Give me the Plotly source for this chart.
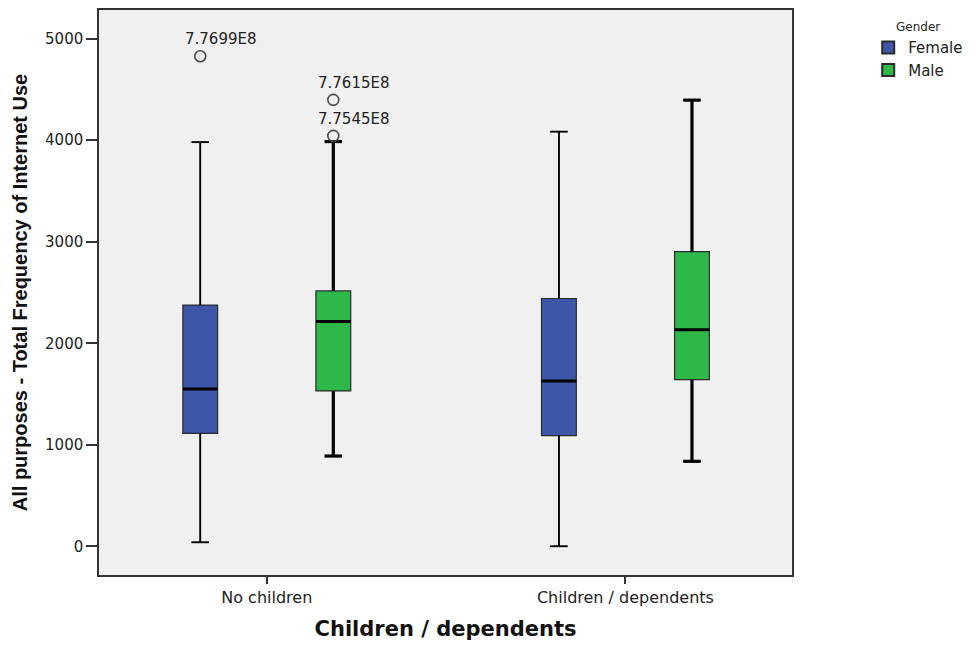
import plotly.graph_objects as go

# Categories on the x axis
categories = ["No children", "Children / dependents"]
genders = ["Female", "Male"]

# Box statistics per gender, one value per category
female_min = [39, 0]
female_q1 = [1113, 1091]
female_median = [1550, 1628]
female_q3 = [2376, 2441]
female_max = [3981, 4085]

male_min = [889, 837]
male_q1 = [1530, 1641]
male_median = [2214, 2132]
male_q3 = [2516, 2903]
male_max = [3987, 4395]

# Outlying cases (category index, gender, value, case label)
outlier_cat = [0, 0, 0]
outlier_gender = ["Female", "Male", "Male"]
outlier_value = [4827, 4398, 4043]
outlier_label = ["7.7699E8", "7.7615E8", "7.7545E8"]

y_ticks = [0, 1000, 2000, 3000, 4000, 5000]

colors = {"Female": "#3d56a8", "Male": "#2fb84a"}
whisker_w = {"Female": 1.8, "Male": 3.2}
offset = {"Female": -0.1855, "Male": 0.1855}
box_w = 0.097
cap_w = box_w * 0.5
cat_pos = [1, 2]

stats = {
    "Female": (female_min, female_q1, female_median, female_q3, female_max),
    "Male": (male_min, male_q1, male_median, male_q3, male_max),
}

TXT = "DejaVu Sans, Verdana, sans-serif"

fig = go.Figure()

for g in genders:
    lo, q1, med, q3, hi = stats[g]
    xs = [c + offset[g] for c in cat_pos]
    fig.add_trace(go.Box(
        name=g,
        x=xs,
        q1=q1, median=med, q3=q3,
        lowerfence=lo, upperfence=hi,
        width=box_w,
        whiskerwidth=0.5,
        fillcolor=colors[g],
        line=dict(color="#2a2a2a", width=1.2),
        boxpoints=False,
        hoverinfo="skip",
    ))

# Whiskers, caps and heavy median bars drawn over each box
for g in genders:
    lo, q1, med, q3, hi = stats[g]
    wx, wy = [], []
    mx, my = [], []
    for i, c in enumerate(cat_pos):
        x0 = c + offset[g]
        wx += [x0, x0, None, x0, x0, None]
        wy += [q3[i], hi[i], None, lo[i], q1[i], None]
        wx += [x0 - cap_w / 2, x0 + cap_w / 2, None, x0 - cap_w / 2, x0 + cap_w / 2, None]
        wy += [hi[i], hi[i], None, lo[i], lo[i], None]
        mx += [x0 - box_w / 2, x0 + box_w / 2, None]
        my += [med[i], med[i], None]
    fig.add_trace(go.Scatter(
        x=wx, y=wy, mode="lines",
        line=dict(color="#000000", width=whisker_w[g]),
        showlegend=False, hoverinfo="skip",
    ))
    fig.add_trace(go.Scatter(
        x=mx, y=my, mode="lines",
        line=dict(color="#000000", width=3),
        showlegend=False, hoverinfo="skip",
    ))

# Outlier circles with their case labels
ox = [cat_pos[c] + offset[g] for c, g in zip(outlier_cat, outlier_gender)]
fig.add_trace(go.Scatter(
    x=ox, y=outlier_value, mode="markers",
    marker=dict(symbol="circle-open", size=11, color="#4a4a4a",
                line=dict(width=1.6, color="#4a4a4a")),
    showlegend=False, hoverinfo="skip",
))
for x, v, t in zip(ox, outlier_value, outlier_label):
    fig.add_annotation(
        x=x, y=v, text=t, showarrow=False,
        xshift=21, yshift=17,
        font=dict(family=TXT, size=15, color="#222222"),
    )

fig.update_layout(
    width=976, height=645,
    margin=dict(l=99, r=179, t=8, b=67),
    paper_bgcolor="white",
    plot_bgcolor="#f0f0f0",
    boxmode="overlay",
    font=dict(family=TXT, color="#222222"),
    legend=dict(
        x=1.110, y=0.99, xanchor="left", yanchor="top",
        title=dict(text="Gender", side="top center",
                   font=dict(size=12, family=TXT, color="#222222")),
        font=dict(size=15, family=TXT, color="#222222"),
        itemsizing="constant",
        tracegroupgap=0,
        bgcolor="rgba(0,0,0,0)",
    ),
    xaxis=dict(
        range=[0.5322, 2.4644],
        tickmode="array", tickvals=cat_pos, ticktext=categories,
        ticks="outside", ticklen=7, tickwidth=1.5, tickcolor="#333333",
        showline=True, linecolor="#333333", linewidth=1.5, mirror=True,
        showgrid=False, zeroline=False,
        tickfont=dict(size=16, family=TXT, color="#222222"),
        title=dict(text="<b>Children / dependents</b>",
                   font=dict(size=21, family=TXT, color="#111111"),
                   standoff=15),
    ),
    yaxis=dict(
        range=[-283, 5283],
        tickmode="array", tickvals=y_ticks,
        ticks="outside", ticklen=11, tickwidth=1.5, tickcolor="#333333",
        showline=True, linecolor="#333333", linewidth=1.5, mirror=True,
        showgrid=False, zeroline=False,
        tickfont=dict(size=15, family=TXT, color="#222222"),
        title=dict(text="<b>All purposes - Total Frequency of Internet Use</b>",
                   font=dict(size=20, family="Liberation Sans Narrow, Arial Narrow, Liberation Sans", color="#111111"),
                   standoff=12),
    ),
)

fig.write_html("out.html")
